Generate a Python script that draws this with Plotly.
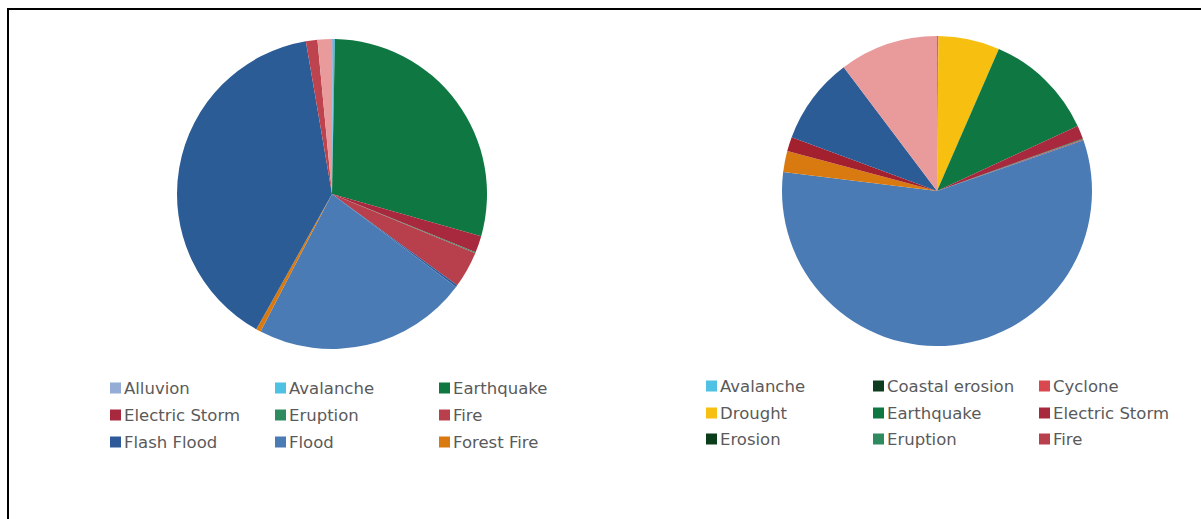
import plotly.graph_objects as go

W, H = 1201, 519

# Left pie: share of events by hazard type (%)
left_labels = ["Alluvion", "Avalanche", "Earthquake", "Electric Storm", "Eruption",
               "Fire", "Flash Flood", "Flood", "Forest Fire", "Landslide",
               "Rains", "Windstorm"]
left_values = [0.1, 0.2, 29.1, 1.75, 0.1, 3.8, 0.2, 22.4, 0.5, 39.2, 1.2, 1.5]

# Right pie: share of losses by hazard type (%)
right_labels = ["Avalanche", "Coastal erosion", "Cyclone", "Drought", "Earthquake",
                "Electric Storm", "Erosion", "Eruption", "Fire", "Flood",
                "Forest Fire", "Hailstorm", "Landslide", "Windstorm"]
right_values = [0.05, 0.05, 0.05, 6.4, 11.6, 1.4, 0.05, 0.05, 0.1, 57.4,
                2.2, 1.5, 9.1, 10.3]

colors = {
    "Alluvion": "#95add6",
    "Avalanche": "#4fc1e2",
    "Coastal erosion": "#0f3b1e",
    "Cyclone": "#d9484f",
    "Drought": "#f7bf10",
    "Earthquake": "#0e7742",
    "Electric Storm": "#a8283e",
    "Erosion": "#0b3d1b",
    "Eruption": "#2e8b60",
    "Fire": "#b8404c",
    "Flash Flood": "#2f5a9a",
    "Flood": "#4a7bb4",
    "Forest Fire": "#d97a10",
    "Hailstorm": "#a3202e",
    "Landslide": "#2b5c95",
    "Rains": "#bd444e",
    "Windstorm": "#e99b9c",
}

def px_x(x):
    return x / W

def px_y(y):
    return 1 - y / H

fig = go.Figure()

def add_pie(labels, values, cx, cy, r):
    fig.add_trace(go.Pie(
        labels=labels, values=values,
        marker=dict(colors=[colors[l] for l in labels], line=dict(width=0)),
        sort=False, direction="clockwise", rotation=0,
        textinfo="none", hoverinfo="label+percent",
        showlegend=False,
        domain=dict(x=[px_x(cx - r), px_x(cx + r)], y=[px_y(cy + r), px_y(cy - r)]),
    ))

add_pie(left_labels, left_values, 332, 194, 155)
add_pie(right_labels, right_values, 937, 191, 155)

shapes = []
annotations = []

def add_legend(labels, col_x, row_y, n_shown=9):
    for i, lab in enumerate(labels[:n_shown]):
        sx = col_x[i % 3]
        sy = row_y[i // 3]
        shapes.append(dict(
            type="rect", xref="paper", yref="paper",
            x0=px_x(sx), x1=px_x(sx + 11), y0=px_y(sy + 5.5), y1=px_y(sy - 5.5),
            fillcolor=colors[lab], line=dict(width=0),
        ))
        annotations.append(dict(
            x=px_x(sx + 12), y=px_y(sy), xref="paper", yref="paper",
            xanchor="left", yanchor="middle", showarrow=False, text=lab,
            font=dict(family="DejaVu Sans", size=16.5, color="#5a5a5a"),
        ))

add_legend(left_labels, [110, 275, 439], [388, 415, 442])
add_legend(right_labels, [706, 873, 1039], [386, 413, 439])

# frame running off the right and bottom edges
shapes.append(dict(
    type="path", xref="paper", yref="paper",
    path=f"M {px_x(8)},{px_y(540)} L {px_x(8)},{px_y(9)} L {px_x(1230)},{px_y(9)}",
    line=dict(color="black", width=2),
))

fig.update_layout(
    width=W, height=H,
    margin=dict(l=0, r=0, t=0, b=0),
    paper_bgcolor="white", plot_bgcolor="white",
    shapes=shapes, annotations=annotations,
)

fig.write_html("out.html")
